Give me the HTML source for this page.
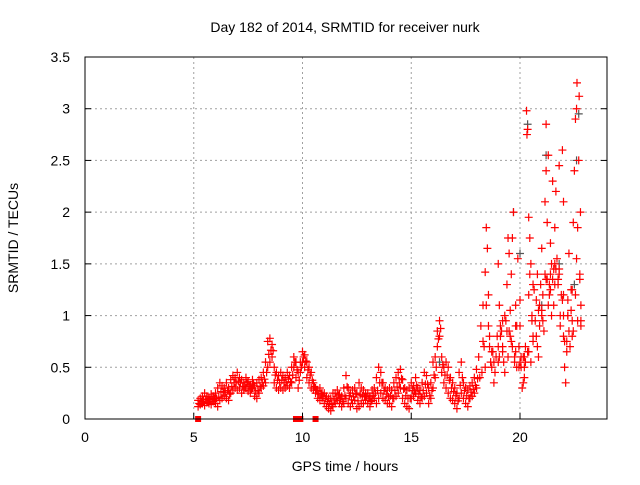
<!DOCTYPE html>
<html><head><meta charset="utf-8"><style>
body{margin:0;background:#fff}
svg text{font-family:"Liberation Sans",sans-serif;font-size:14px;fill:#000}
</style></head><body>
<svg id="c" width="640" height="480">
<rect width="640" height="480" fill="#fff"/>
<g id="grid"></g><g id="gray"></g><g id="red"></g><g id="axes"></g>
<text x="345" y="32" text-anchor="middle">Day 182 of 2014, SRMTID for receiver nurk</text>
<text x="345" y="471" text-anchor="middle">GPS time / hours</text>
<text transform="translate(18,238) rotate(-90)" text-anchor="middle">SRMTID / TECUs</text>
</svg>
<script>
const xTicks=[0,5,10,15,20];
const yTicks=[0,0.5,1,1.5,2,2.5,3,3.5];
const yTickLabels=["0","0.5","1","1.5","2","2.5","3","3.5"];
const baseTimes=[5.2,5.3,5.4,5.5,5.6,5.7,5.8,5.9,6.0,6.1,6.2,6.3,6.4,6.5,6.6,6.7,6.8,6.9,7.0,7.1,7.2,7.3,7.4,7.5,7.6,7.7,7.8,7.9,8.0,8.1,8.2,8.3,8.4,8.5,8.6,8.7,8.8,8.9,9.0,9.1,9.2,9.3,9.4,9.5,9.6,9.7,9.8,9.9,10.0,10.1,10.2,10.3,10.4,10.5,10.6,10.7,10.8,10.9,11.0,11.1,11.2,11.3,11.4,11.5,11.6,11.7,11.8,11.9,12.0,12.1,12.2,12.3,12.4,12.5,12.6,12.7,12.8,12.9,13.0,13.1,13.2,13.3,13.4,13.5,13.6,13.7,13.8,13.9,14.0,14.1,14.2,14.3,14.4,14.5,14.6,14.7,14.8,14.9,15.0,15.1,15.2,15.3,15.4,15.5,15.6,15.7,15.8,15.9,16.0,16.1,16.2,16.3,16.4,16.5,16.6,16.7,16.8,16.9,17.0,17.1,17.2,17.3,17.4,17.5,17.6,17.7,17.8,17.9,18.0];
const baseLow=[.12,.14,.15,.13,.16,.15,.14,.17,.15,.12,.18,.2,.22,.2,.18,.25,.28,.3,.28,.3,.25,.28,.3,.27,.25,.3,.22,.2,.25,.3,.32,.35,.5,.55,.6,.35,.3,.28,.3,.28,.3,.32,.3,.35,.5,.4,.3,.45,.55,.5,.4,.35,.3,.28,.25,.2,.18,.2,.15,.12,.1,.08,.12,.15,.18,.15,.12,.15,.2,.15,.12,.15,.18,.1,.12,.15,.15,.18,.15,.12,.18,.2,.15,.2,.25,.2,.18,.15,.15,.12,.2,.22,.25,.3,.2,.15,.12,.1,.2,.22,.25,.18,.15,.2,.22,.25,.15,.2,.3,.4,.7,.8,.45,.35,.3,.25,.2,.18,.15,.1,.2,.25,.2,.15,.12,.2,.22,.25,.3];
const baseHigh=[.18,.2,.22,.25,.22,.2,.24,.22,.25,.3,.35,.32,.3,.35,.3,.38,.42,.4,.45,.4,.38,.35,.4,.36,.33,.38,.32,.35,.38,.4,.45,.55,.75,.78,.72,.5,.45,.42,.45,.42,.4,.45,.42,.5,.6,.55,.45,.55,.65,.62,.55,.5,.45,.35,.3,.28,.3,.25,.25,.22,.2,.2,.25,.25,.28,.24,.22,.3,.42,.3,.25,.28,.3,.25,.35,.3,.28,.25,.25,.22,.28,.3,.4,.5,.45,.35,.3,.28,.3,.28,.35,.4,.45,.48,.38,.3,.28,.3,.35,.32,.4,.3,.28,.35,.45,.42,.3,.35,.55,.6,.85,.95,.6,.5,.55,.5,.4,.35,.3,.25,.45,.55,.35,.3,.28,.32,.35,.4,.48];
const lateTimes=[18.1,18.2,18.3,18.4,18.45,18.5,18.55,18.6,18.7,18.8,18.9,19.0,19.05,19.1,19.2,19.3,19.3,19.4,19.45,19.5,19.55,19.6,19.65,19.7,19.75,19.8,19.85,19.9,19.95,20.0,20.0,20.05,20.1,20.15,20.2,20.25,20.3,20.32,20.35,20.4,20.45,20.5,20.5,20.55,20.6,20.7,20.75,20.8,20.85,20.9,21.0,21.05,21.1,21.15,21.2,21.2,21.25,21.3,21.35,21.4,21.45,21.5,21.55,21.6,21.65,21.7,21.75,21.8,21.85,21.9,21.95,22.0,22.0,22.05,22.1,22.15,22.2,22.25,22.3,22.35,22.4,22.45,22.5,22.55,22.6,22.62,22.65,22.7,22.72,22.75,22.78,22.8,22.8,19.0,19.2,19.5,20.2,20.6,21.0,21.3,21.6,22.0,22.4,21.8,21.4,18.3,18.7,19.1,19.8,20.4,20.9,21.5,22.2,
18.15,18.25,18.35,18.45,18.55,18.65,18.75,18.85,18.95,19.05,19.15,19.25,19.35,19.45,19.55,19.65,19.75,19.85,19.95,20.05,20.15,20.25,20.35,20.45,20.55,20.65,20.75,20.85,20.95,21.05,21.15,21.25,21.35,21.45,21.55,21.65,21.75,21.85,21.95,22.05,22.15,22.25,22.35,22.45,22.55,22.65,22.75,
18.4,18.6,18.8,19.0,19.2,19.4,19.6,19.8,20.0,20.2,20.4,20.6,20.8,21.0,21.2,21.4,21.6,21.8,22.0,22.2,22.4,22.6,22.8];
const lateValues=[.6,.9,1.1,1.42,1.85,1.65,1.2,.8,.5,.35,.6,1.5,1.1,.9,.7,.45,1.0,1.3,1.75,1.6,.8,1.4,1.75,2.0,.6,1.1,.5,1.55,.7,.9,1.15,.5,.3,.6,.4,.7,2.98,2.75,2.8,1.95,1.75,1.5,.55,1.0,1.3,.95,1.15,1.4,.6,.9,1.65,1.2,.85,2.1,2.4,2.85,1.9,2.55,1.3,1.7,1.0,2.3,1.45,1.85,2.2,1.55,1.35,2.45,.9,1.2,2.6,2.1,1.0,.5,.35,.75,1.15,1.6,.7,1.25,.8,1.9,2.4,2.9,3.0,3.25,1.85,2.5,3.12,1.4,2.0,.9,1.1,.55,.95,.85,.6,.75,1.05,1.1,1.3,.8,.95,1.4,1.25,.75,.65,.8,.9,1.2,1.1,1.35,1.0,
.4,.45,.7,1.1,.9,.55,.65,.45,.8,.6,.85,.55,.95,.6,1.05,.7,.55,.9,.5,.6,.35,.55,.65,1.4,.95,1.25,.8,1.05,1.3,.95,1.4,1.35,1.2,1.5,1.1,1.45,1.3,1.0,1.15,.75,.65,.85,1.05,.85,1.2,.95,1.35,
.5,.7,.55,.7,.65,.85,.75,.65,.55,.5,.65,.8,.7,1.0,1.35,1.4,1.5,1.45,1.2,1.0,1.25,1.55,.95];
const zeroTimes=[5.2,9.7,9.9,10.6];
const grayTimes=[19.7,20.35,21.2,22.6,20.0,21.8,22.7,16.3,22.5,21.0];
const grayValues=[2.0,2.85,2.55,2.5,1.6,1.5,2.95,0.55,1.3,1.1];

const L=85,R=607,T=57,B=419,XMAX=24,YMAX=3.5;
const sx=v=>L+(R-L)*v/XMAX, sy=v=>B-(B-T)*v/YMAX;
const NS="http://www.w3.org/2000/svg";
function mk(tag,attrs,parent){const e=document.createElementNS(NS,tag);for(const k in attrs)e.setAttribute(k,attrs[k]);parent.appendChild(e);return e;}
const grid=document.getElementById('grid'),axes=document.getElementById('axes');
xTicks.forEach(t=>{const x=sx(t);
 if(t>0){const g=mk('line',{x1:x,x2:x,y1:T,y2:B,stroke:'#a0a0a0','stroke-dasharray':'2,3'},grid);
 
 }
 const tk=mk('line',{x1:x,x2:x,y1:B,y2:B-6,stroke:'#000'},axes);
 
 
 const lb=mk('text',{x:x,y:B+23,'text-anchor':'middle'},axes);lb.textContent=t;
 
 
});
yTicks.forEach((t,i)=>{const y=sy(t);
 if(t>0&&t<YMAX){const g=mk('line',{x1:L,x2:R,y1:y,y2:y,stroke:'#a0a0a0','stroke-dasharray':'2,3'},grid);
 
 }
 const tk=mk('line',{x1:L,x2:L+6,y1:y,y2:y,stroke:'#000'},axes);
 
 
 const tk2=mk('line',{x1:R,x2:R-6,y1:y,y2:y,stroke:'#000'},axes);
 
 
 const lb=mk('text',{x:L-15,y:y+5,'text-anchor':'end'},axes);lb.textContent=yTickLabels[i];
 
 
});
const fr=mk('rect',{x:L,y:T,width:R-L,height:B-T,fill:'none',stroke:'#000'},axes);


function plus(x,y,col,parent,name){const p=mk('path',{d:`M${sx(x)-4},${sy(y)}h8M${sx(x)},${sy(y)-4}v8`,stroke:col,'stroke-width':1.2,fill:'none'},parent);
 
 }
const gg=document.getElementById('gray'),rg=document.getElementById('red');
grayTimes.forEach((t,i)=>plus(t,grayValues[i],'#555',gg,'gray-point'));
baseTimes.forEach((t,i)=>{plus(t,baseLow[i],'#f00',rg,'red-point');plus(t+0.05,(baseLow[i]+baseHigh[i])/2,'#f00',rg,'red-point');plus(t,baseHigh[i],'#f00',rg,'red-point');});
lateTimes.forEach((t,i)=>plus(t,lateValues[i],'#f00',rg,'red-point'));
zeroTimes.forEach(t=>{const r=mk('rect',{x:sx(t)-3,y:B-3,width:6,height:6,fill:'#f00'},rg);
 
 });
</script>
</body></html>
